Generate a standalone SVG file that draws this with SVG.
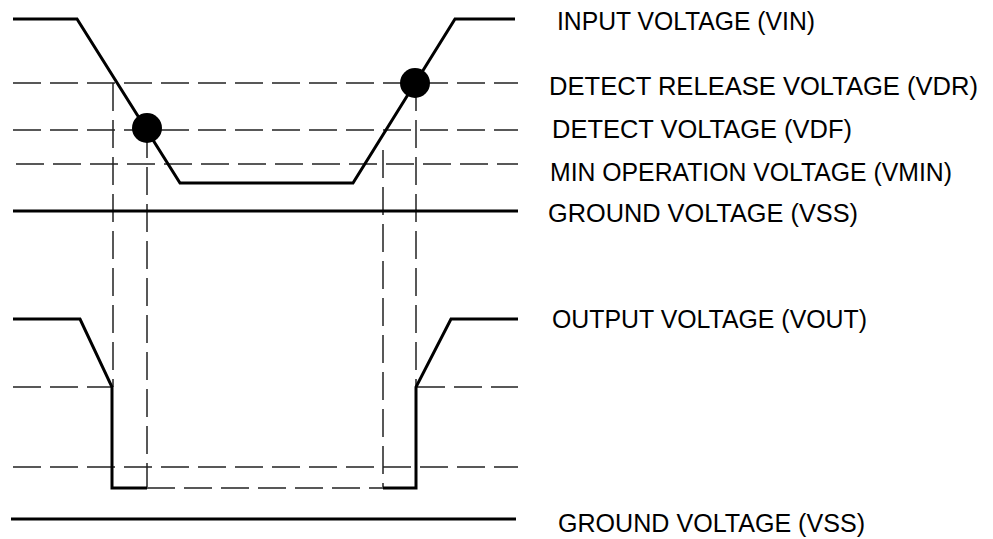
<svg xmlns="http://www.w3.org/2000/svg" width="993" height="539" viewBox="0 0 993 539">
<style>
.s{fill:none;stroke:#000;stroke-width:3;stroke-linejoin:miter}
.d{fill:none;stroke:#222;stroke-width:1.5;stroke-dasharray:28 9}
.t{font-family:"Liberation Sans",Arial,sans-serif;font-size:25px;fill:#000}
</style>
<rect width="993" height="539" fill="#fff"/>
<g id="connectors">
<line class="d" x1="13" y1="83" x2="518" y2="83"/>
<line class="d" x1="13" y1="130" x2="518" y2="130"/>
<line class="d" x1="16" y1="164" x2="518" y2="164"/>
<line class="d" x1="113" y1="83" x2="113" y2="387"/>
<line class="d" x1="147" y1="130" x2="147" y2="487"/>
<line class="d" x1="383" y1="150" x2="383" y2="487"/>
<line class="d" x1="416" y1="83" x2="416" y2="387"/>
<line class="d" x1="13" y1="387" x2="112" y2="387"/>
<line class="d" x1="417" y1="387" x2="518" y2="387"/>
<line class="d" x1="13" y1="467" x2="518" y2="467"/>
<line class="d" x1="147" y1="488" x2="383" y2="488"/>
</g>
<g id="vin">
<polyline class="s" points="13,19 77,19 180,183 353,183 455,19 515,19"/>
<circle cx="147" cy="128" r="15" fill="#000"/>
<circle cx="415" cy="83" r="15" fill="#000"/>
<text class="t" x="557" y="30" textLength="258" lengthAdjust="spacingAndGlyphs">INPUT VOLTAGE (VIN)</text>
</g>
<g id="vdr"><text class="t" x="549" y="95" textLength="429" lengthAdjust="spacingAndGlyphs">DETECT RELEASE VOLTAGE (VDR)</text></g>
<g id="vdf"><text class="t" x="552" y="138" textLength="300" lengthAdjust="spacingAndGlyphs">DETECT VOLTAGE (VDF)</text></g>
<g id="vmin"><text class="t" x="550" y="181" textLength="402" lengthAdjust="spacingAndGlyphs">MIN OPERATION VOLTAGE (VMIN)</text></g>
<g id="vss1">
<line class="s" x1="13" y1="211" x2="518" y2="211"/>
<text class="t" x="548" y="222" textLength="310" lengthAdjust="spacingAndGlyphs">GROUND VOLTAGE (VSS)</text>
</g>
<g id="vout">
<polyline class="s" points="13,319 80,319 112,387 112,488 147,488"/>
<polyline class="s" points="383,488 416,488 416,387 451,319 518,319"/>
<text class="t" x="552" y="328" textLength="315" lengthAdjust="spacingAndGlyphs">OUTPUT VOLTAGE (VOUT)</text>
</g>
<g id="vss2">
<line class="s" x1="11" y1="519" x2="516" y2="519"/>
<text class="t" x="558" y="532" textLength="307" lengthAdjust="spacingAndGlyphs">GROUND VOLTAGE (VSS)</text>
</g>
</svg>
